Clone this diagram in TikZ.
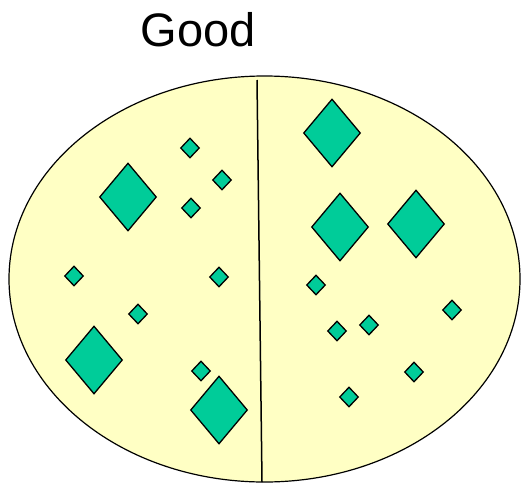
\documentclass[tikz,border=0pt]{standalone}
\usepackage{fontspec}
\setmainfont{Liberation Sans}
\usetikzlibrary{shapes.geometric}

\definecolor{paleyellow}{RGB}{255,255,196}
\definecolor{seagreen}{RGB}{0,204,153}

\begin{document}
\begin{tikzpicture}[x=1pt,y=-1pt,
    gem/.style={diamond,draw=black,fill=seagreen,line width=1.3pt,inner sep=0pt},
    biggem/.style={gem,minimum width=57pt,minimum height=68pt},
    smallgem/.style={gem,minimum width=19pt,minimum height=20pt}]
  \useasboundingbox (0,0) rectangle (521,482);
  \node[font=\fontsize{47}{50}\selectfont] (title) at (198,30) {Good};
  \draw[fill=paleyellow,line width=1.2pt] (264.5,279) ellipse [x radius=255.5,y radius=203];
  \coordinate (top) at (257,80);
  \coordinate (bottom) at (262,482);
  \draw[line width=1.5pt] (top) -- (bottom);
  % left half
  \node[biggem] (l1) at (128,197) {};
  \node[biggem] (l2) at (94,360) {};
  \node[biggem] (l3) at (219,410) {};
  \node[smallgem] (la) at (190,148) {};
  \node[smallgem] (lb) at (222,180) {};
  \node[smallgem] (lc) at (191,208) {};
  \node[smallgem] (ld) at (74,276) {};
  \node[smallgem] (le) at (219,277) {};
  \node[smallgem] (lf) at (138,314) {};
  \node[smallgem] (lg) at (201,371) {};
  % right half
  \node[biggem] (r1) at (332,133) {};
  \node[biggem] (r2) at (340,227) {};
  \node[biggem] (r3) at (416,224) {};
  \node[smallgem] (ra) at (316,285) {};
  \node[smallgem] (rb) at (452,310) {};
  \node[smallgem] (rc) at (337,331) {};
  \node[smallgem] (rd) at (369,325) {};
  \node[smallgem] (re) at (414,372) {};
  \node[smallgem] (rf) at (349,397) {};
\end{tikzpicture}
\end{document}
